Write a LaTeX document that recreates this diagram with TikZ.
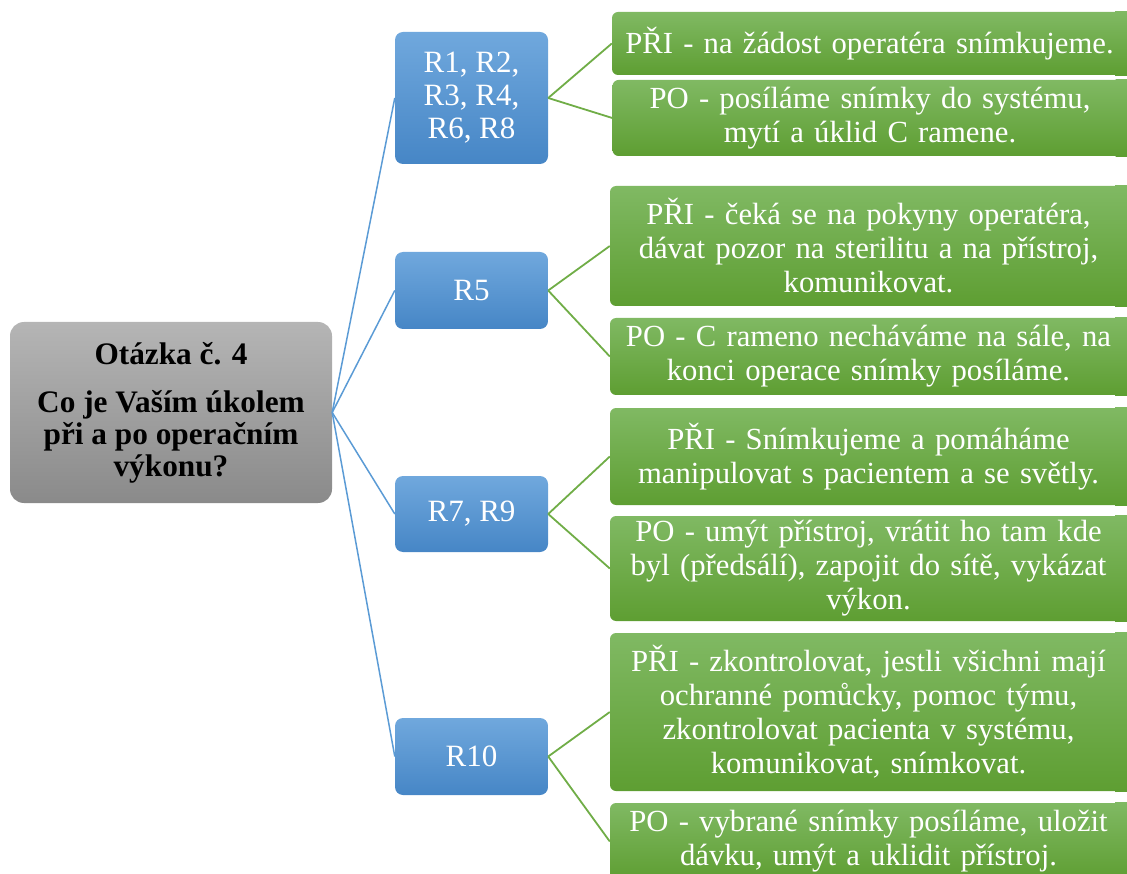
\documentclass[tikz,border=0pt]{standalone}
\usepackage{fontspec}
\setmainfont{Liberation Serif}
\usetikzlibrary{backgrounds}
\definecolor{rootT}{HTML}{B5B5B5}
\definecolor{rootB}{HTML}{8A8A8A}
\definecolor{blueT}{HTML}{70A8DD}
\definecolor{blueB}{HTML}{4686C6}
\definecolor{greenT}{HTML}{80B963}
\definecolor{greenB}{HTML}{5E9E32}
\definecolor{lineB}{HTML}{5B9BD5}
\definecolor{lineG}{HTML}{70AD47}
\tikzset{
  box/.style={inner sep=0pt, align=center, text=white},
  rootbox/.style={box, rounded corners=14pt, top color=rootT, bottom color=rootB,
    text=black, font=\fontsize{31.3}{32}\selectfont\bfseries},
  midbox/.style={box, rounded corners=8pt, top color=blueT, bottom color=blueB,
    font=\fontsize{31}{33}\selectfont},
  leafbox/.style={box, rounded corners=6pt, top color=greenT, bottom color=greenB,
    text width=515pt, font=\fontsize{30.7}{34}\selectfont},
  blueline/.style={draw=lineB, line width=1.5pt},
  greenline/.style={draw=lineG, line width=1.8pt}
}
% \placebox{name}{style}{x1}{y1}{x2}{y2}{text}
\newcommand\placebox[7]{%
  \node[#2, minimum width={#5-#3}, minimum height={#6-#4}]
    (#1) at ({(#3+#5)/2},{(#4+#6)/2}) {#7};}
\begin{document}
\begin{tikzpicture}[x=1pt, y=-1pt]
  \useasboundingbox (0,0) rectangle (1127,874);

  % question
  \placebox{q}{rootbox}{10}{322}{332}{503}
    {Otázka č. 4\\[16pt]Co je Vaším úkolem\\při a po operačním\\výkonu?}

  % respondent groups
  \placebox{r1}{midbox}{395}{32}{548}{164}{R1, R2,\\R3, R4,\\R6, R8}
  \placebox{r5}{midbox}{395}{252}{548}{329}{R5}
  \placebox{r7}{midbox}{395}{476}{548}{552}{R7, R9}
  \placebox{r10}{midbox}{395}{718}{548}{795}{R10}

  % answers (they run on past the right edge of the page)
  \placebox{a1}{leafbox}{612}{12}{1127}{75}
    {PŘI - na žádost operatéra snímkujeme.}
  \placebox{a2}{leafbox}{613}{80}{1127}{156}
    {PO - posíláme snímky do systému,\\mytí a úklid C ramene.}
  \placebox{a3}{leafbox}{610}{186}{1127}{306}
    {PŘI - čeká se na pokyny operatéra,\\dávat pozor na sterilitu a na přístroj,\\komunikovat.}
  \placebox{a4}{leafbox}{610}{318}{1127}{395}
    {PO - C rameno necháváme na sále, na\\konci operace snímky posíláme.}
  \placebox{a5}{leafbox}{610}{408}{1127}{505}
    {PŘI - Snímkujeme a pomáháme\\manipulovat s pacientem a se světly.}
  \placebox{a6}{leafbox}{610}{516}{1127}{621}
    {PO - umýt přístroj, vrátit ho tam kde\\byl (předsálí), zapojit do sítě, vykázat\\výkon.}
  \placebox{a7}{leafbox}{610}{633}{1127}{791}
    {PŘI - zkontrolovat, jestli všichni mají\\ochranné pomůcky, pomoc týmu,\\zkontrolovat pacienta v systému,\\komunikovat, snímkovat.}
  \placebox{a8}{leafbox}{610}{803}{1127}{880}
    {PO - vybrané snímky posíláme, uložit\\dávku, umýt a uklidit přístroj.}

  % square off the answer boxes where the page cuts them
  \begin{pgfonlayer}{background}
    \foreach \a in {a1,a2,a3,a4,a5,a6,a7,a8}
      \shade[top color=greenT, bottom color=greenB]
        ([xshift=-12pt]\a.north east) rectangle ([xshift=6pt]\a.south east);
  \end{pgfonlayer}

  % connectors
  \foreach \r in {r1,r5,r7,r10}
    \draw[blueline] (q.east) -- (\r.west);
  \draw[greenline] (r1.east) -- (a1.west);
  \draw[greenline] (r1.east) -- (a2.west);
  \draw[greenline] (r5.east) -- (a3.west);
  \draw[greenline] (r5.east) -- (a4.west);
  \draw[greenline] (r7.east) -- (a5.west);
  \draw[greenline] (r7.east) -- (a6.west);
  \draw[greenline] (r10.east) -- (a7.west);
  \draw[greenline] (r10.east) -- (a8.west);
\end{tikzpicture}
\end{document}
